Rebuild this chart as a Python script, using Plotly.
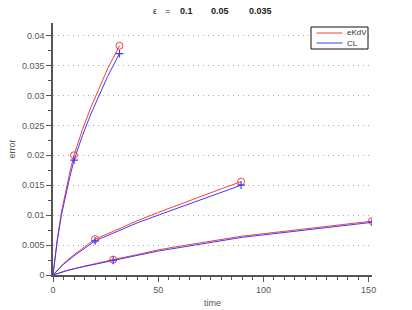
import plotly.graph_objects as go

# ---- data ----
t_a = [0, 1, 2, 4, 6, 8, 10, 14, 18, 22, 26, 31.6]
ekdv_a = [0, 0.0033, 0.0059, 0.0105, 0.0141, 0.0172, 0.0200, 0.0243, 0.0280, 0.0314, 0.0345, 0.0383]
cl_a = [0, 0.0031, 0.0056, 0.0100, 0.0135, 0.0164, 0.0192, 0.0233, 0.0269, 0.0302, 0.0332, 0.0370]

t_b = [0, 5, 10, 15, 20, 30, 40, 50, 60, 70, 80, 89.4]
ekdv_b = [0, 0.0019, 0.0034, 0.0047, 0.0060, 0.0075, 0.00905, 0.01045, 0.0118, 0.0131, 0.0144, 0.0156]
cl_b = [0, 0.0018, 0.0032, 0.0045, 0.0057, 0.0072, 0.0087, 0.0100, 0.0113, 0.0126, 0.0138, 0.0150]

t_c = [0, 7, 14, 21, 28.6, 40, 50, 60, 75, 90, 105, 120, 136, 151.6]
ekdv_c = [0, 0.0008, 0.0014, 0.0020, 0.00257, 0.0034, 0.0042, 0.0048, 0.0057, 0.0065, 0.0071, 0.00775, 0.0084, 0.0090]
cl_c = [0, 0.00077, 0.00135, 0.0019, 0.00246, 0.00327, 0.0040, 0.0046, 0.0055, 0.0063, 0.0069, 0.0075, 0.0082, 0.0088]

mark_t = [10, 31.6, 20, 89.4, 28.6, 151.6]
mark_ekdv = [0.0200, 0.0383, 0.0060, 0.0156, 0.00257, 0.0090]
mark_cl = [0.0192, 0.0370, 0.0057, 0.0150, 0.00246, 0.0088]

eps_labels = ["0.1", "0.05", "0.035"]
eps_label_x = [63.3, 79.2, 98.4]
legend_names = ["eKdV", "CL"]

RED = "#ff3b3b"
BLUE = "#3b3bff"

fig = go.Figure()
for i, (t, e, c) in enumerate([(t_a, ekdv_a, cl_a), (t_b, ekdv_b, cl_b), (t_c, ekdv_c, cl_c)]):
    fig.add_trace(go.Scatter(x=t, y=e, mode="lines", line=dict(color=RED, width=1),
                             name=legend_names[0], showlegend=False))
    fig.add_trace(go.Scatter(x=t, y=c, mode="lines", line=dict(color=BLUE, width=1),
                             name=legend_names[1], showlegend=False))

fig.add_trace(go.Scatter(x=mark_t, y=mark_ekdv, mode="markers", showlegend=False,
                         marker=dict(symbol="circle-open", size=7, color=RED, line=dict(width=1))))
fig.add_trace(go.Scatter(x=mark_t, y=mark_cl, mode="markers", showlegend=False,
                         marker=dict(symbol="cross-thin-open", size=5.5, color=BLUE,
                                     line=dict(width=1.2, color=BLUE))))

# title annotations
fig.add_annotation(x=48.3, y=1.046, xref="x", yref="paper", text="ε", showarrow=False,
                   font=dict(size=9, color="#222"), xanchor="center", yanchor="middle")
fig.add_annotation(x=54.5, y=1.046, xref="x", yref="paper", text="=", showarrow=False,
                   font=dict(size=9, color="#222"), xanchor="center", yanchor="middle")
for lab, lx in zip(eps_labels, eps_label_x):
    fig.add_annotation(x=lx, y=1.046, xref="x", yref="paper", text="<b>" + lab + "</b>",
                       showarrow=False, font=dict(size=9, color="#222"),
                       xanchor="center", yanchor="middle")

# manual legend (box at ~ x 311-368 px, y 27-49 px)
W = 412 - 53 - 40
H = 310 - 23 - 35
def px(xp):
    return (xp - 53) / W
def py(yp):
    return (310 - 35 - yp) / H

fig.add_shape(type="rect", xref="paper", yref="paper", x0=px(311), x1=px(368), y0=py(49), y1=py(27),
              line=dict(color="#111", width=1), fillcolor="white", layer="above")
for k, (nm, col) in enumerate(zip(legend_names, [RED, BLUE])):
    yy = 33 + k * 10
    fig.add_shape(type="line", xref="paper", yref="paper", x0=px(316.5), x1=px(342.5),
                  y0=py(yy), y1=py(yy), line=dict(color=col, width=1), layer="above")
    fig.add_annotation(x=px(345), y=py(yy), xref="paper", yref="paper", text=nm, showarrow=False,
                       font=dict(size=8, color="#333"), xanchor="left", yanchor="middle")

axis_common = dict(showline=True, linecolor="#555", linewidth=1.5, ticks="outside",
                   tickcolor="#555", tickwidth=1, ticklen=5, zeroline=False, automargin=False,
                   tickfont=dict(size=9, color="#555"), mirror=False)

fig.update_xaxes(range=[0, 151.6], dtick=50, tick0=0, showgrid=False,
                 minor=dict(dtick=5, ticks="outside", ticklen=3, tickcolor="#555", showgrid=False),
                 title=dict(text="time", font=dict(size=9, color="#555"), standoff=6),
                 **axis_common)
fig.update_yaxes(range=[0, 0.0421], dtick=0.005, tick0=0, showgrid=True,
                 gridcolor="#aaa", griddash="1px,4px", gridwidth=1,
                 minor=dict(dtick=0.0025, ticks="outside", ticklen=3, tickcolor="#555", showgrid=False),
                 title=dict(text="error", font=dict(size=9, color="#555"), standoff=5),
                 **axis_common)

fig.update_layout(
    width=412, height=310,
    margin=dict(l=53, r=40, t=23, b=35),
    plot_bgcolor="white", paper_bgcolor="white",
    font=dict(family="Liberation Sans, Arial, sans-serif", size=9, color="#333"),
    showlegend=False,
)

fig.write_html("out.html", config={"displayModeBar": False},
               post_script="document.body.style.margin='0';document.body.style.overflow='hidden';")
